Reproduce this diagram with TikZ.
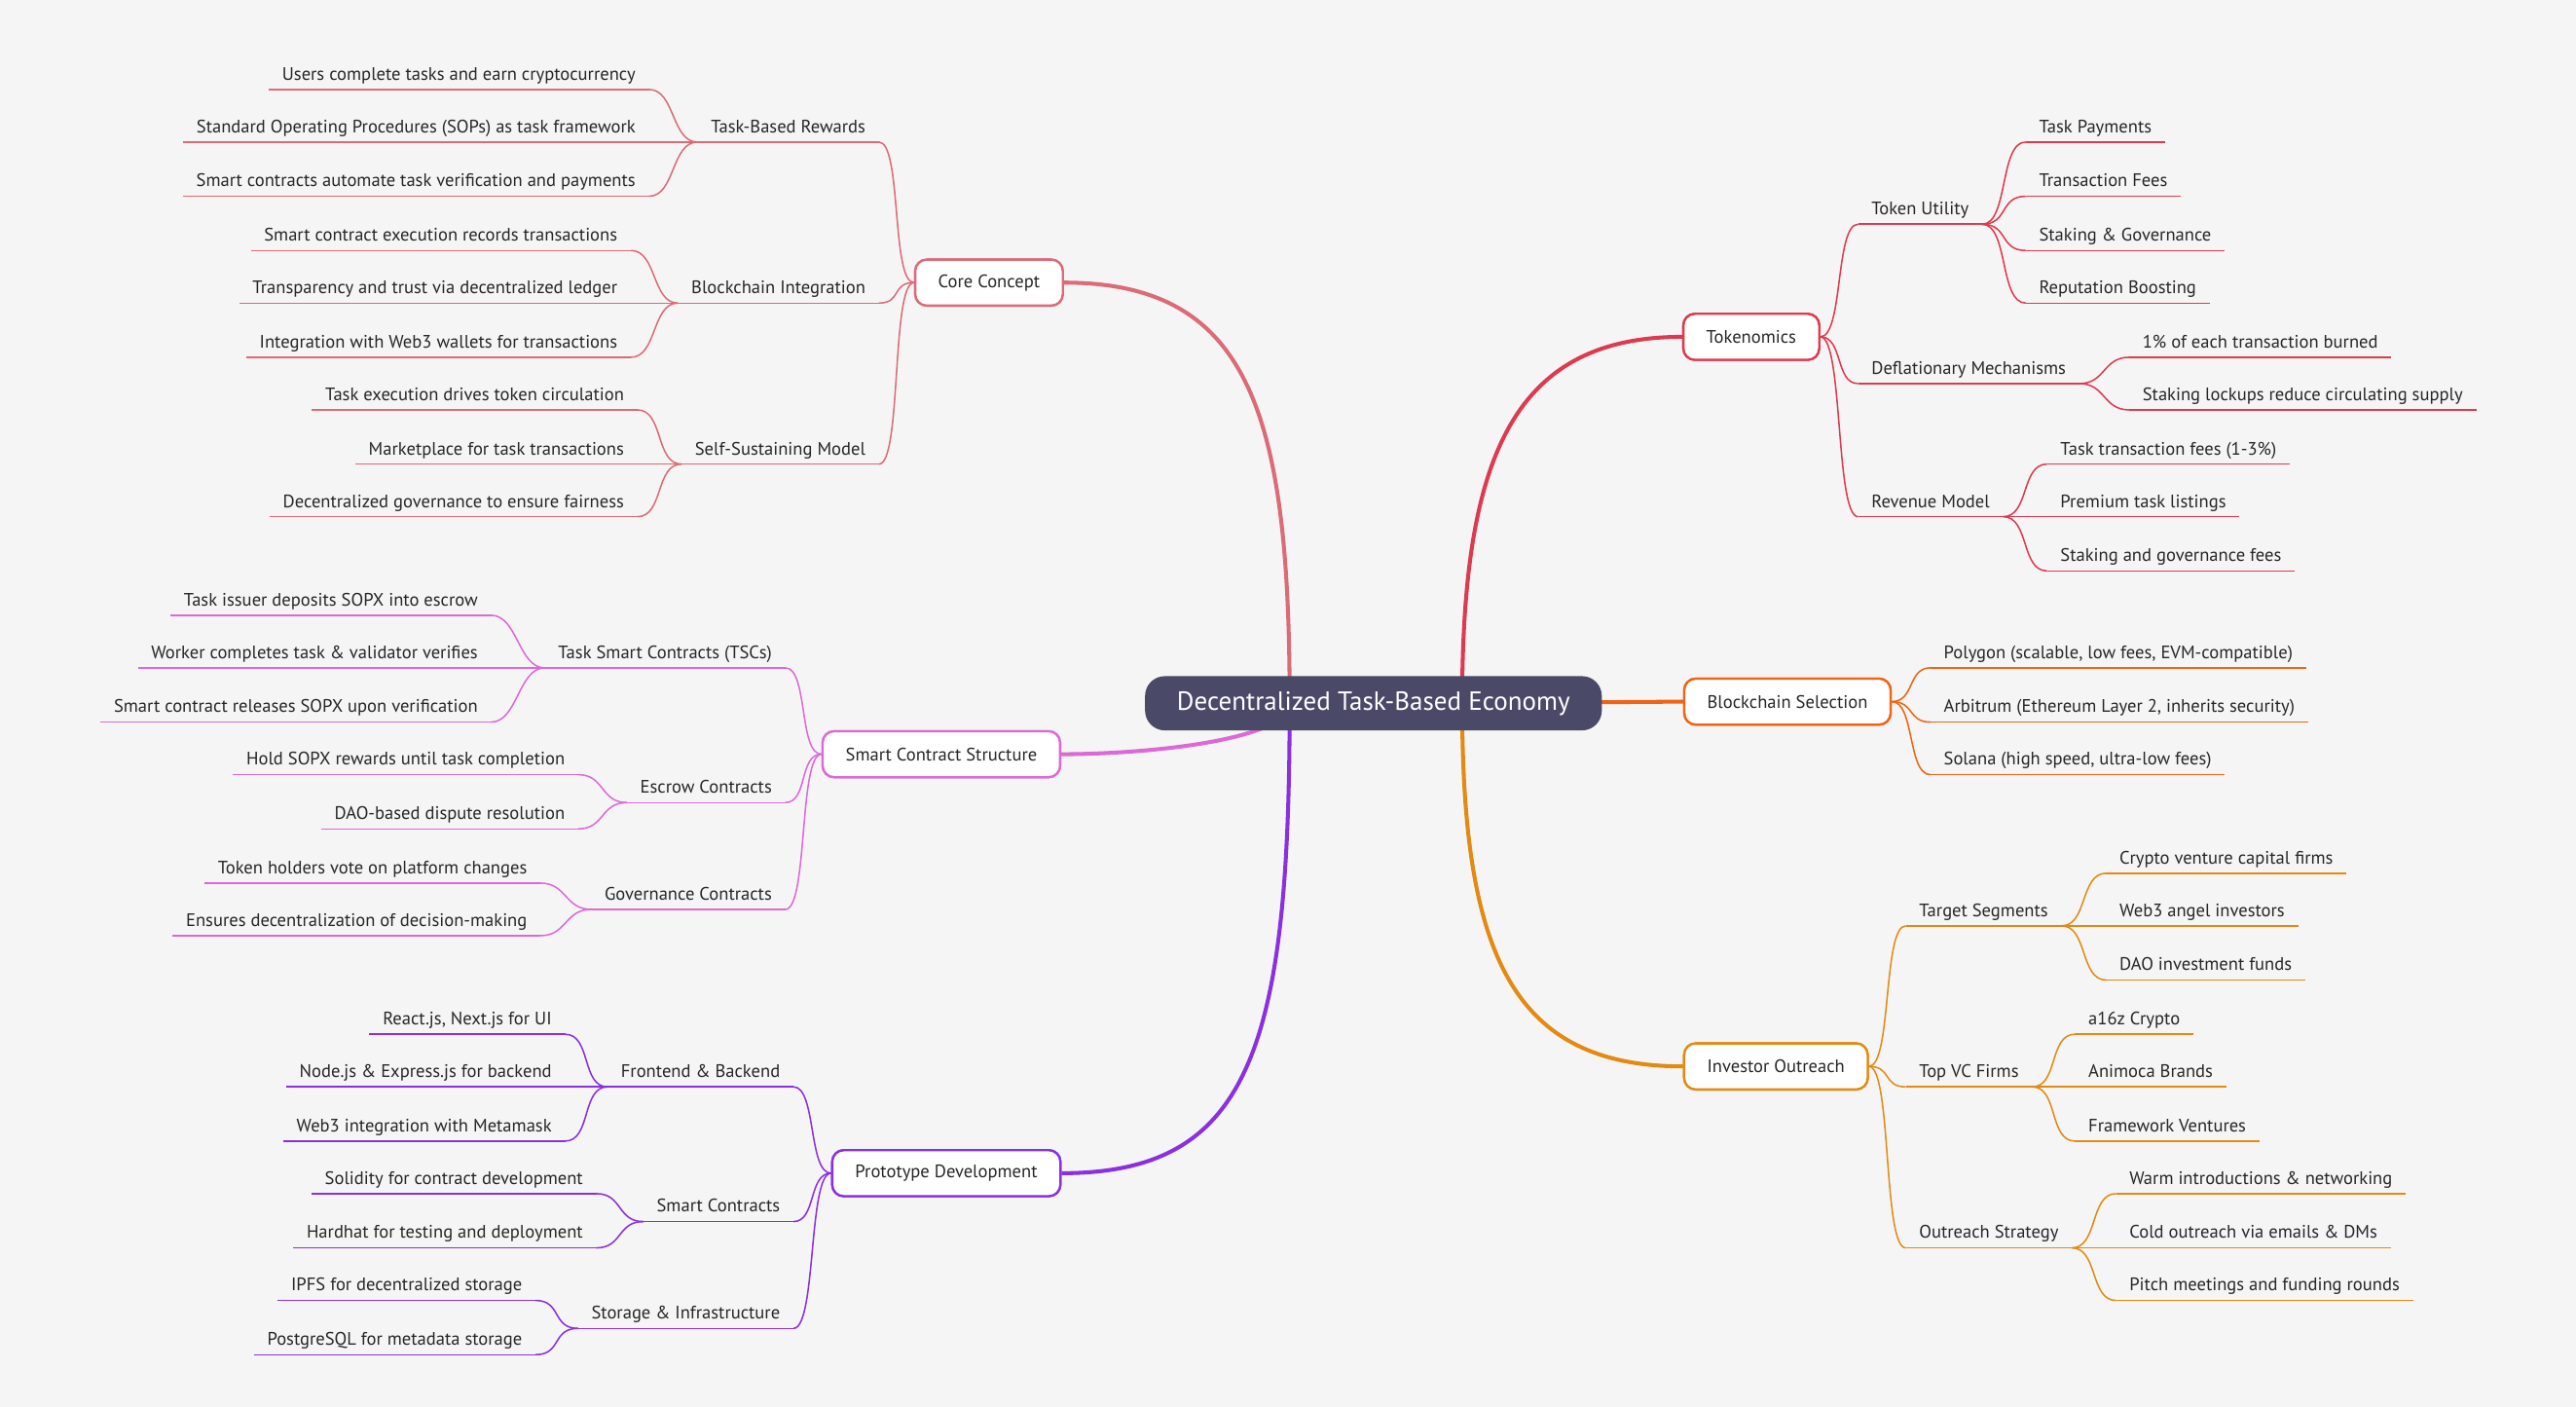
\documentclass[tikz,border=0pt]{standalone}
\usepackage{fontspec}
\setmainfont{PT Sans}
\definecolor{cc}{HTML}{DC6B78}
\definecolor{tk}{HTML}{DE3A4F}
\definecolor{bs}{HTML}{F06414}
\definecolor{io}{HTML}{E38A12}
\definecolor{sc}{HTML}{DC6AD6}
\definecolor{pd}{HTML}{8A30E0}
\definecolor{mainc}{HTML}{4A4A68}
\tikzset{
 leaf/.style={inner xsep=8pt, inner ysep=3pt, font=\fontsize{11}{13}\selectfont, text height=8pt, text depth=2.5pt, text=black!85},
 box/.style={draw, line width=1.4pt, rounded corners=7pt, fill=white, minimum height=28pt, inner xsep=14pt, font=\fontsize{11}{13}\selectfont, text=black!85},
 thin/.style={line width=0.9pt},
 trunk/.style={line width=2.4pt}
}
\newcommand\lnode[5]{% name color xright y text
 \node[leaf, anchor=east] (#1) at (#3+8,#4) {#5};
 \draw[thin,#2] (#1.south west) -- (#1.south east);}
\newcommand\rnode[5]{% name color xleft y text
 \node[leaf, anchor=west] (#1) at (#3-8,#4) {#5};
 \draw[thin,#2] (#1.south west) -- (#1.south east);}
\newcommand\lcon[3]{\draw[thin,#1] (#2.south east) .. controls +(16,0) and +(-16,0) .. (#3.south west);}
\newcommand\rcon[3]{\draw[thin,#1] (#2.south east) .. controls +(16,0) and +(-16,0) .. (#3.south west);}
\newcommand\lbox[3]{\draw[thin,#1] (#2.west) .. controls +(-14,0) and +(14,0) .. (#3.south east);}
\newcommand\rbox[3]{\draw[thin,#1] (#2.east) .. controls +(14,0) and +(-14,0) .. (#3.south west);}
\begin{document}
\begin{tikzpicture}[x=1pt,y=-1pt]
\fill[white!96!black] (0,0) rectangle (1568,856);
\useasboundingbox (0,0) rectangle (1568,856);
\coordinate (mL) at (785,428);
\coordinate (mR) at (890,428);
% boxes
\node[box,draw=cc] (cc) at (602,172) {Core Concept};
\node[box,draw=sc] (scs) at (573,459) {Smart Contract Structure};
\node[box,draw=pd] (pd) at (576,714) {Prototype Development};
\node[box,draw=tk] (tk) at (1066,205) {Tokenomics};
\node[box,draw=bs] (bs) at (1088,427) {Blockchain Selection};
\node[box,draw=io] (io) at (1081,649) {Investor Outreach};
% trunks
\draw[trunk,cc] (mL) .. controls (785,250) and (760,172) .. (cc.east);
\draw[trunk,sc] (mL) .. controls (785,450) and (700,459) .. (scs.east);
\draw[trunk,pd] (mL) .. controls (785,640) and (760,714) .. (pd.east);
\draw[trunk,tk] (mR) .. controls (890,280) and (920,205) .. (tk.west);
\draw[trunk,bs] (mR) -- (bs.west);
\draw[trunk,io] (mR) .. controls (890,580) and (920,649) .. (io.west);
\node[fill=mainc, rounded corners=12pt, minimum width=278pt, minimum height=33pt, text=white, font=\fontsize{16}{18}\selectfont] (main) at (836,428) {Decentralized Task-Based Economy};
% redraw boxes on top
\node[box,draw=cc] at (602,172) {Core Concept};
\node[box,draw=sc] at (573,459) {Smart Contract Structure};
\node[box,draw=pd] at (576,714) {Prototype Development};
\node[box,draw=tk] at (1066,205) {Tokenomics};
\node[box,draw=bs] at (1088,427) {Blockchain Selection};
\node[box,draw=io] at (1081,649) {Investor Outreach};
% Core Concept
\lnode{tbr}{cc}{527}{78}{Task-Based Rewards}
\lnode{a1}{cc}{387}{46}{Users complete tasks and earn cryptocurrency}
\lnode{a2}{cc}{387}{78}{Standard Operating Procedures (SOPs) as task framework}
\lnode{a3}{cc}{387}{111}{Smart contracts automate task verification and payments}
\lcon{cc}{a1}{tbr}\lcon{cc}{a2}{tbr}\lcon{cc}{a3}{tbr}
\lnode{bi}{cc}{527}{176}{Blockchain Integration}
\lnode{b1}{cc}{376}{144}{Smart contract execution records transactions}
\lnode{b2}{cc}{376}{176}{Transparency and trust via decentralized ledger}
\lnode{b3}{cc}{376}{209}{Integration with Web3 wallets for transactions}
\lcon{cc}{b1}{bi}\lcon{cc}{b2}{bi}\lcon{cc}{b3}{bi}
\lnode{ss}{cc}{527}{274}{Self-Sustaining Model}
\lnode{c1}{cc}{380}{241}{Task execution drives token circulation}
\lnode{c2}{cc}{380}{274}{Marketplace for task transactions}
\lnode{c3}{cc}{380}{306}{Decentralized governance to ensure fairness}
\lcon{cc}{c1}{ss}\lcon{cc}{c2}{ss}\lcon{cc}{c3}{ss}
\lbox{cc}{cc}{tbr}\lbox{cc}{cc}{bi}\lbox{cc}{cc}{ss}
% Smart Contract Structure
\lnode{tsc}{sc}{470}{398}{Task Smart Contracts (TSCs)}
\lnode{d1}{sc}{291}{366}{Task issuer deposits SOPX into escrow}
\lnode{d2}{sc}{291}{398}{Worker completes task \& validator verifies}
\lnode{d3}{sc}{291}{431}{Smart contract releases SOPX upon verification}
\lcon{sc}{d1}{tsc}\lcon{sc}{d2}{tsc}\lcon{sc}{d3}{tsc}
\lnode{esc}{sc}{470}{480}{Escrow Contracts}
\lnode{e1}{sc}{344}{463}{Hold SOPX rewards until task completion}
\lnode{e2}{sc}{344}{496}{DAO-based dispute resolution}
\lcon{sc}{e1}{esc}\lcon{sc}{e2}{esc}
\lnode{gov}{sc}{470}{545}{Governance Contracts}
\lnode{f1}{sc}{321}{529}{Token holders vote on platform changes}
\lnode{f2}{sc}{321}{561}{Ensures decentralization of decision-making}
\lcon{sc}{f1}{gov}\lcon{sc}{f2}{gov}
\lbox{sc}{scs}{tsc}\lbox{sc}{scs}{esc}\lbox{sc}{scs}{gov}
% Prototype
\lnode{fb}{pd}{475}{653}{Frontend \& Backend}
\lnode{g1}{pd}{336}{621}{React.js, Next.js for UI}
\lnode{g2}{pd}{336}{653}{Node.js \& Express.js for backend}
\lnode{g3}{pd}{336}{686}{Web3 integration with Metamask}
\lcon{pd}{g1}{fb}\lcon{pd}{g2}{fb}\lcon{pd}{g3}{fb}
\lnode{smc}{pd}{475}{735}{Smart Contracts}
\lnode{h1}{pd}{355}{718}{Solidity for contract development}
\lnode{h2}{pd}{355}{751}{Hardhat for testing and deployment}
\lcon{pd}{h1}{smc}\lcon{pd}{h2}{smc}
\lnode{sto}{pd}{475}{800}{Storage \& Infrastructure}
\lnode{i1}{pd}{318}{783}{IPFS for decentralized storage}
\lnode{i2}{pd}{318}{816}{PostgreSQL for metadata storage}
\lcon{pd}{i1}{sto}\lcon{pd}{i2}{sto}
\lbox{pd}{pd}{fb}\lbox{pd}{pd}{smc}\lbox{pd}{pd}{sto}
% Tokenomics
\rnode{tu}{tk}{1139}{128}{Token Utility}
\rnode{j1}{tk}{1241}{78}{Task Payments}
\rnode{j2}{tk}{1241}{111}{Transaction Fees}
\rnode{j3}{tk}{1241}{144}{Staking \& Governance}
\rnode{j4}{tk}{1241}{176}{Reputation Boosting}
\rcon{tk}{tu}{j1}\rcon{tk}{tu}{j2}\rcon{tk}{tu}{j3}\rcon{tk}{tu}{j4}
\rnode{dm}{tk}{1139}{225}{Deflationary Mechanisms}
\rnode{k1}{tk}{1304}{209}{1\% of each transaction burned}
\rnode{k2}{tk}{1304}{241}{Staking lockups reduce circulating supply}
\rcon{tk}{dm}{k1}\rcon{tk}{dm}{k2}
\rnode{rm}{tk}{1139}{306}{Revenue Model}
\rnode{l1}{tk}{1254}{274}{Task transaction fees (1-3\%)}
\rnode{l2}{tk}{1254}{306}{Premium task listings}
\rnode{l3}{tk}{1254}{339}{Staking and governance fees}
\rcon{tk}{rm}{l1}\rcon{tk}{rm}{l2}\rcon{tk}{rm}{l3}
\rbox{tk}{tk}{tu}\rbox{tk}{tk}{dm}\rbox{tk}{tk}{rm}
% Blockchain Selection
\rnode{m1}{bs}{1183}{398}{Polygon (scalable, low fees, EVM-compatible)}
\rnode{m2}{bs}{1183}{431}{Arbitrum (Ethereum Layer 2, inherits security)}
\rnode{m3}{bs}{1183}{463}{Solana (high speed, ultra-low fees)}
\rbox{bs}{bs}{m1}\rbox{bs}{bs}{m2}\rbox{bs}{bs}{m3}
% Investor Outreach
\rnode{ts}{io}{1168}{555}{Target Segments}
\rnode{n1}{io}{1290}{523}{Crypto venture capital firms}
\rnode{n2}{io}{1290}{555}{Web3 angel investors}
\rnode{n3}{io}{1290}{588}{DAO investment funds}
\rcon{io}{ts}{n1}\rcon{io}{ts}{n2}\rcon{io}{ts}{n3}
\rnode{vc}{io}{1168}{653}{Top VC Firms}
\rnode{o1}{io}{1271}{621}{a16z Crypto}
\rnode{o2}{io}{1271}{653}{Animoca Brands}
\rnode{o3}{io}{1271}{686}{Framework Ventures}
\rcon{io}{vc}{o1}\rcon{io}{vc}{o2}\rcon{io}{vc}{o3}
\rnode{os}{io}{1168}{751}{Outreach Strategy}
\rnode{p1}{io}{1296}{718}{Warm introductions \& networking}
\rnode{p2}{io}{1296}{751}{Cold outreach via emails \& DMs}
\rnode{p3}{io}{1296}{783}{Pitch meetings and funding rounds}
\rcon{io}{os}{p1}\rcon{io}{os}{p2}\rcon{io}{os}{p3}
\rbox{io}{io}{ts}\rbox{io}{io}{vc}\rbox{io}{io}{os}
\end{tikzpicture}
\end{document}
